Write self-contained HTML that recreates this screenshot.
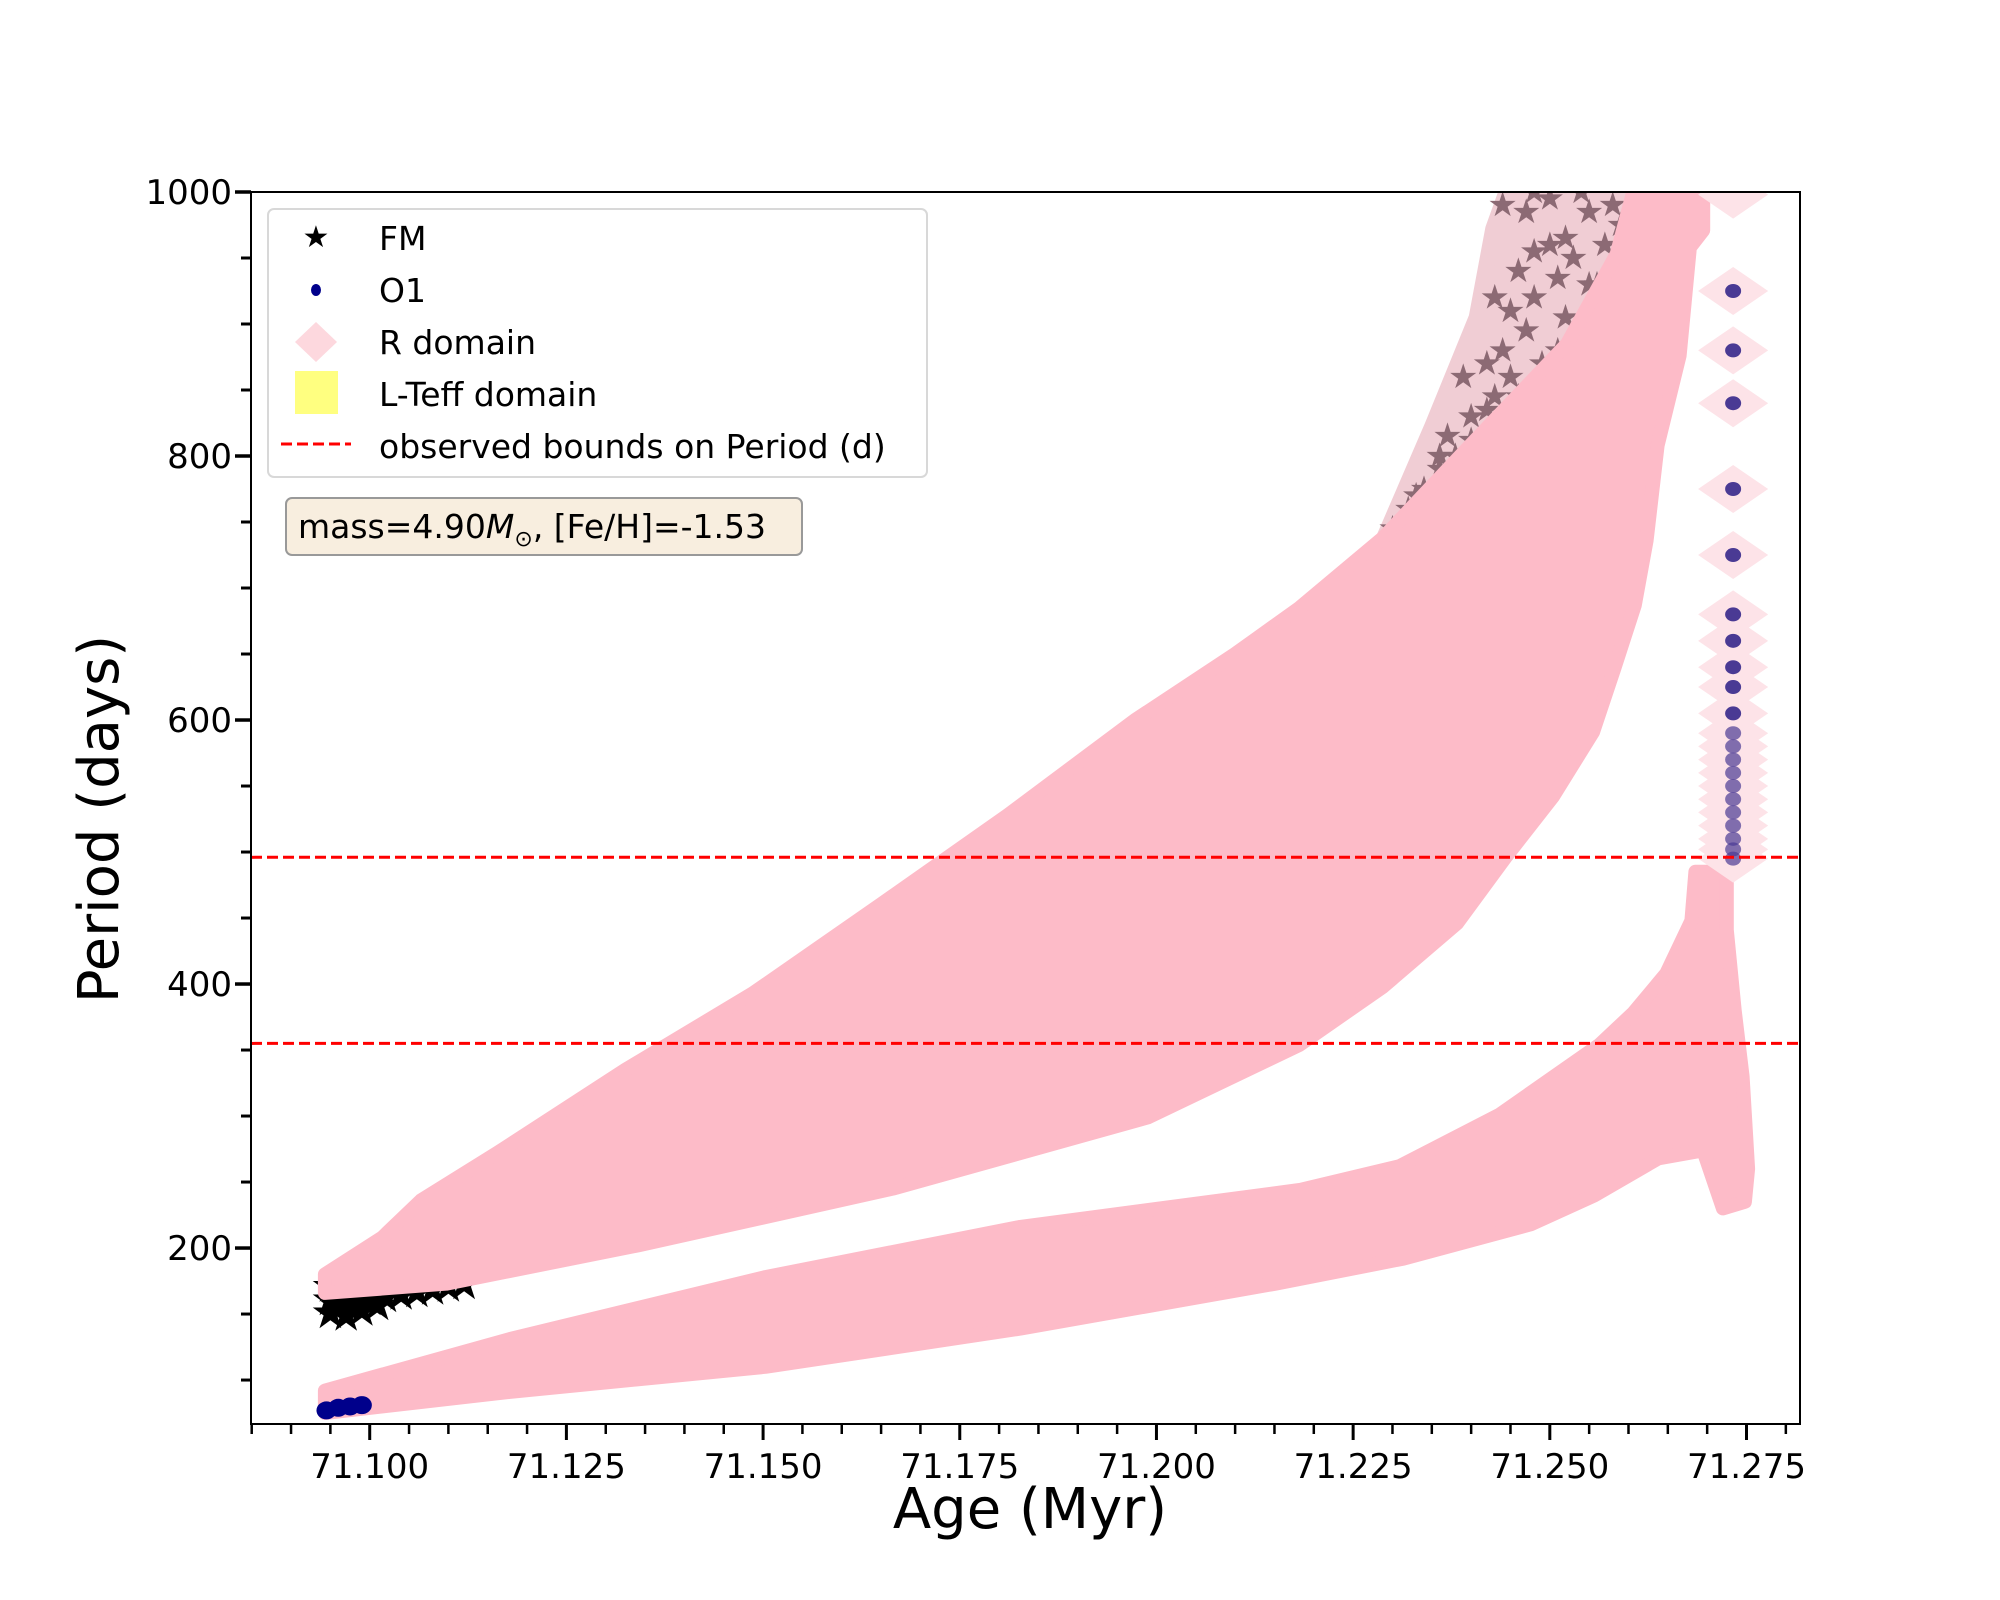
<!DOCTYPE html>
<html><head><meta charset="utf-8"><style>
html,body{margin:0;padding:0;background:#fff;}
svg{display:block;font-family:"DejaVu Sans","Liberation Sans",sans-serif;}
</style></head><body>
<svg id="chart" width="2000" height="1600" viewBox="0 0 2000 1600" xmlns="http://www.w3.org/2000/svg">
<defs><clipPath id="plotclip"><rect x="251" y="192" width="1549" height="1232"/></clipPath></defs>
<rect x="0" y="0" width="2000" height="1600" fill="#fff"/>
<g id="plot" clip-path="url(#plotclip)"></g>
<rect x="251" y="192" width="1549" height="1232" fill="none" stroke="#000" stroke-width="2"/>
<g id="axes"></g>
<text x="1030" y="1528" font-size="56" text-anchor="middle">Age (Myr)</text>
<text x="0" y="0" font-size="56" text-anchor="middle" transform="translate(118,819) rotate(-90)">Period (days)</text>
<g>
<rect x="268" y="209" width="659" height="268" rx="6" fill="#fff" fill-opacity="0.8" stroke="#d8d8d8" stroke-width="2"/>
<g><text x="316" y="247" font-size="30" text-anchor="middle">★</text><text x="379" y="250" font-size="33">FM</text></g>
<g><ellipse cx="316" cy="290" rx="5" ry="6" fill="#00008b"/><text x="379" y="302" font-size="33">O1</text></g>
<g><polygon points="316,322 337,342 316,362 295,342" fill="#fdd8de"/><text x="379" y="354" font-size="33">R domain</text></g>
<g><rect x="295" y="371" width="43" height="43" fill="#ffff80"/><text x="379" y="406" font-size="33">L-Teff domain</text></g>
<g><line x1="281" y1="444" x2="351" y2="444" stroke="#ff0000" stroke-width="3" stroke-dasharray="11,5"/><text x="379" y="458" font-size="33">observed bounds on Period (d)</text></g>
</g>
<g>
<rect x="286" y="498" width="516" height="57" rx="6" fill="#f8eedf" stroke="#999" stroke-width="2"/>
<text x="298" y="538" font-size="33">mass=4.90<tspan font-style="italic">M</tspan><tspan font-size="22" dy="8">⊙</tspan><tspan dy="-8">, [Fe/H]=-1.53</tspan></text>
</g>
</svg>
<script>
// ---- data ----
const upperBandTopAge = [71.0943,71.1016,71.1065,71.1162,71.1325,71.1487,71.1649,71.1811,71.1973,71.2100,71.2182,71.2288,71.2394,71.2522,71.2585,71.2606,71.2695];
const upperBandTopPeriod = [180,208,236,272,335,393,460,528,600,650,685,738,805,885,953,1000,1000];
const upperBandBottomAge = [71.2695,71.2695,71.2678,71.2665,71.2637,71.2623,71.2608,71.2582,71.2555,71.2504,71.2445,71.2382,71.2288,71.2182,71.1989,71.1665,71.1341,71.1097,71.0943];
const upperBandBottomPeriod = [1000,971,958,876,808,736,687,639,591,542,497,446,398,354,299,245,202,173,166];
const fmRegionAge = [71.2288,71.2351,71.2407,71.2428,71.2445,71.2606,71.2585,71.2522,71.2394,71.2288];
const fmRegionPeriod = [736,823,905,972,1000,1000,953,885,805,735];
const lowerBandTopAge = [71.0943,71.1178,71.1503,71.1827,71.2182,71.2309,71.2436,71.2563,71.2606,71.2648,71.2680,71.2685,71.2725,71.2725,71.2735,71.2745,71.2752];
const lowerBandTopPeriod = [92,131,178,216,244,262,301,354,378,408,448,485,485,441,380,330,260];
const lowerBandBottomAge = [71.2748,71.2720,71.2695,71.2638,71.2557,71.2476,71.2314,71.2151,71.1827,71.1503,71.1178,71.0943];
const lowerBandBottomPeriod = [235,230,274,268,240,218,192,173,139,110,91,75];
const fmStarAge = [71.095,71.095,71.096,71.097,71.098,71.099,71.100,71.101,71.102,71.104,71.106,71.108,71.110,71.112,71.095,71.097,71.099,71.101,71.103,71.230,71.232,71.234,71.236,71.238,71.240,71.237,71.240,71.243,71.242,71.244,71.247,71.245,71.248,71.251,71.248,71.252,71.255,71.244,71.247,71.250,71.253,71.255,71.258,71.239,71.236,71.242,71.245,71.233,71.246,71.249,71.252,71.256,71.259,71.254,71.243,71.246,71.250,71.251,71.257,71.248];
const fmStarPeriod = [150,160,155,148,158,152,160,156,162,164,166,168,170,172,170,168,166,170,172,745,760,775,790,800,812,815,830,845,870,880,895,910,920,935,955,965,985,990,985,960,950,930,990,860,800,835,860,770,845,870,905,930,975,1000,920,940,995,880,960,1000];
const o1Age = [71.0945,71.0960,71.0975,71.0990,71.2733,71.2733,71.2733,71.2733,71.2733,71.2733,71.2733,71.2733,71.2733,71.2733,71.2733,71.2733,71.2733,71.2733,71.2733,71.2733,71.2733,71.2733,71.2733,71.2733,71.2733,71.2733];
const o1Period = [77,79,80,81,925,880,840,775,725,680,660,640,625,605,590,580,570,560,550,540,530,520,510,502,495,998];
const boundPeriods = [496,355];
const xTickLabels = ["71.100","71.125","71.150","71.175","71.200","71.225","71.250","71.275"];
const yTickLabels = ["200","400","600","800","1000"];

// ---- axes ----
const X0=251,X1=1800,Y0=192,Y1=1424;
const xMin=71.08491,xMax=71.2818,yMin=66.7,yMax=1000;
const sx=a=>X0+(a-xMin)/(xMax-xMin)*(X1-X0);
const sy=p=>Y1-(p-yMin)/(yMax-yMin)*(Y1-Y0);
const NS="http://www.w3.org/2000/svg";
const plot=document.getElementById('plot');
const axes=document.getElementById('axes');
function mk(tag,attrs,parent){const e=document.createElementNS(NS,tag);for(const k in attrs)e.setAttribute(k,attrs[k]);parent.appendChild(e);return e;}

function band(topA,topP,botA,botP,name,fill,sw){
  const pts=[];
  for(let i=0;i<topA.length;i++)pts.push(sx(topA[i]).toFixed(1)+','+sy(topP[i]).toFixed(1));
  for(let i=0;i<botA.length;i++)pts.push(sx(botA[i]).toFixed(1)+','+sy(botP[i]).toFixed(1));
  const p=mk('polygon',{points:pts.join(' '),fill:fill,stroke:fill,'stroke-width':sw,'stroke-linejoin':'round'},plot);
  
  
}

// FM region background (stars overlaid by faint R diamonds)
band(fmRegionAge,fmRegionPeriod,[],[],'fm-r-overlap-region','#f0cdd4',16);
for(let i=0;i<fmStarAge.length;i++){
  const early=fmStarAge[i]<71.2;
  const cx=sx(fmStarAge[i]),cy=sy(fmStarPeriod[i]);
  const t=mk('text',{x:cx,y:cy+(early?14:11),'font-size':early?46:34,'text-anchor':'middle',fill:early?'#000':'#8c6a74'},plot);
  t.textContent='★';
  
  
}
band(upperBandTopAge,upperBandTopPeriod,upperBandBottomAge,upperBandBottomPeriod,'r-domain-upper-band','#fdbbc8',14);
band(lowerBandTopAge,lowerBandTopPeriod,lowerBandBottomAge,lowerBandBottomPeriod,'r-domain-lower-band','#fdbbc8',14);

// O1 column diamonds first, then dots
for(let i=0;i<o1Age.length;i++){
  if(o1Age[i]<71.2)continue;
  const cx=sx(o1Age[i]),cy=sy(o1Period[i]);
  const d=mk('polygon',{points:`${cx},${cy-24} ${cx+35},${cy} ${cx},${cy+24} ${cx-35},${cy}`,fill:'#fde3e8'},plot);
  
  
}
for(let i=0;i<o1Age.length;i++){
  if(o1Period[i]>990)continue;
  const cx=sx(o1Age[i]),cy=sy(o1Period[i]);
  const late=o1Age[i]>71.2;
  const c=mk('ellipse',{cx:cx,cy:cy,rx:late?8:10,ry:late?7:9,fill:late?'#4a3a94':'#00008b','fill-opacity':late&&o1Period[i]<600?0.7:1},plot);
  
  
}

// bound lines
for(let i=0;i<boundPeriods.length;i++){
  const y=sy(boundPeriods[i]);
  const l=mk('line',{x1:X0,x2:X1,y1:y,y2:y,stroke:'#ff0000','stroke-width':3,'stroke-dasharray':'11,5'},plot);
  
  
}

// x ticks
for(let k=0;k<=40;k++){
  const v=71.085+k*0.005;
  if(v>xMax)break;
  const x=sx(v);
  const major=(k-3)%5===0;
  const t=mk('line',{x1:x,x2:x,y1:Y1,y2:Y1+(major?16:10),stroke:'#000','stroke-width':major?3:2.5},axes);
  
  
}
for(let i=0;i<xTickLabels.length;i++){
  const t=mk('text',{x:sx(parseFloat(xTickLabels[i])),y:1478,'font-size':34,'text-anchor':'middle'},axes);
  t.textContent=xTickLabels[i];
  
  
}
// y ticks
for(let v=100;v<=1000;v+=50){
  const y=sy(v);
  const major=v%200===0;
  const t=mk('line',{x1:X0,x2:X0-(major?16:10),y1:y,y2:y,stroke:'#000','stroke-width':major?3.5:3},axes);
  
  
}
for(let i=0;i<yTickLabels.length;i++){
  const t=mk('text',{x:232,y:sy(parseFloat(yTickLabels[i]))+12,'font-size':34,'text-anchor':'end'},axes);
  t.textContent=yTickLabels[i];
  
  
}
</script>
</body></html>
